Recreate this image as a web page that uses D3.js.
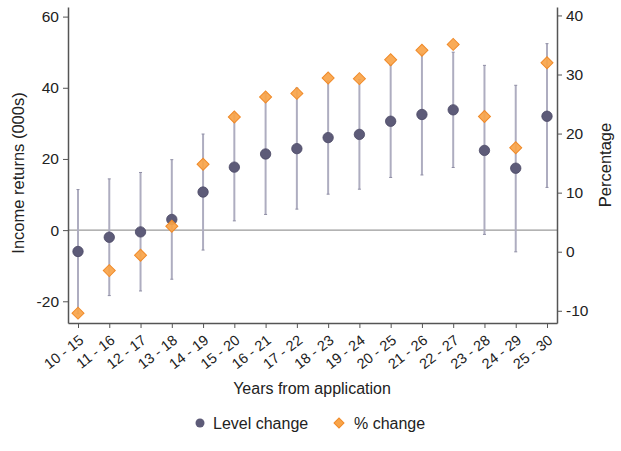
<!DOCTYPE html>
<html><head><meta charset="utf-8">
<script src="https://cdn.jsdelivr.net/npm/d3@7"></script>
<style>body{margin:0;background:#fff;} text{font-family:Arial,"Liberation Sans",sans-serif;}</style>
</head><body>
<svg id="chart" width="621" height="451"></svg>
<script>
const categories = ["10 - 15","11 - 16","12 - 17","13 - 18","14 - 19","15 - 20","16 - 21","17 - 22","18 - 23","19 - 24","20 - 25","21 - 26","22 - 27","23 - 28","24 - 29","25 - 30"];
const levelChange = [-6.0,-2.0,-0.5,3.0,10.7,17.7,21.4,22.9,26.0,26.9,30.6,32.5,33.8,22.4,17.4,32.0];
const levelLow    = [-23.5,-18.4,-17.1,-13.8,-5.6,2.6,4.4,5.9,10.1,11.5,14.8,15.5,17.6,-1.2,-6.1,12.0];
const levelHigh   = [11.4,14.4,16.2,19.8,27.0,32.8,38.4,39.9,41.9,42.3,46.4,49.5,50.0,46.3,40.7,52.4];
const pctChange   = [-10.4,-3.2,-0.6,4.3,14.8,22.8,26.2,26.8,29.4,29.3,32.5,34.1,35.1,22.9,17.6,32.0];
const leftTicks = [-20,0,20,40,60];
const rightTicks = [-10,0,10,20,30,40];

const svg = d3.select("#chart");
const L = 68, R = 557, T = 7, B = 323;
const x = d3.scalePoint().domain(categories).range([L, R]).padding(0.32);
const yL = d3.scaleLinear().domain([-26.1, 62.7]).range([B, T]);
const yR = d3.scaleLinear().domain([-12.07, 41.43]).range([B, T]);
const axisCol = "#555";
const txtCol = "#222";
const fmt = d => String(d);

svg.append("line").attr("x1", L).attr("x2", R).attr("y1", yL(0)).attr("y2", yL(0))
  .attr("stroke", "#9a9a9a").attr("stroke-width", 1.2);

const rows = categories.map((c,i)=>({c, v:levelChange[i], lo:levelLow[i], hi:levelHigh[i], p:pctChange[i]}));
svg.append("g").selectAll("line").data(rows).join("line")
  .attr("x1", d=>x(d.c)).attr("x2", d=>x(d.c))
  .attr("y1", d=>yL(d.lo)).attr("y2", d=>yL(d.hi))
  .attr("stroke", "#aeadc0").attr("stroke-width", 2);
svg.append("g").selectAll("path").data(rows).join("path")
  .attr("d", d=>`M${x(d.c)-1.5},${yL(d.lo)}h3M${x(d.c)-1.5},${yL(d.hi)}h3`)
  .attr("stroke", "#8f8ea5").attr("stroke-width", 1);

svg.append("g").selectAll("circle").data(rows).join("circle")
  .attr("cx", d=>x(d.c)).attr("cy", d=>yL(d.v)).attr("r", 5.2)
  .attr("fill", "#5d5b78").attr("stroke", "#4a4864").attr("stroke-width", 0.8);

svg.append("g").selectAll("path").data(rows).join("path")
  .attr("d", d3.symbol().type(d3.symbolSquare).size(72))
  .attr("transform", d=>`translate(${x(d.c)},${yR(d.p)}) rotate(45)`)
  .attr("fill", "#f9a449").attr("fill-opacity", 0.92).attr("stroke", "#f08a28").attr("stroke-width", 1);

const gl = svg.append("g").attr("transform", `translate(${L},0)`)
  .call(d3.axisLeft(yL).tickValues(leftTicks).tickFormat(fmt).tickSize(5).tickSizeOuter(0).tickPadding(4));
const gr = svg.append("g").attr("transform", `translate(${R},0)`)
  .call(d3.axisRight(yR).tickValues(rightTicks).tickFormat(fmt).tickSize(5).tickSizeOuter(0).tickPadding(4));
const gb = svg.append("g").attr("transform", `translate(0,${B})`)
  .call(d3.axisBottom(x).tickSize(5).tickSizeOuter(0).tickPadding(2));
[gl, gr, gb].forEach(g=>{
  g.select(".domain").attr("stroke", axisCol).attr("stroke-width", 1.5);
  g.selectAll(".tick line").attr("stroke", axisCol).attr("stroke-width", 1);
  g.selectAll("text").attr("fill", txtCol).style("font-size", "15.5px").style("font-family", "Arial, 'Liberation Sans', sans-serif");
});
gb.selectAll("text")
  .attr("text-anchor", "end")
  .attr("x", 0).attr("y", 0).attr("dx", 0).attr("dy", "0.35em")
  .attr("transform", "translate(3,15) rotate(-38)")
  .style("font-size", "14.5px");

svg.append("text").attr("transform", `translate(24,${(T+B)/2+8}) rotate(-90)`)
  .attr("text-anchor", "middle").attr("fill", txtCol).style("font-size", "16.5px")
  .text("Income returns (000s)");
svg.append("text").attr("transform", `translate(611,${(T+B)/2}) rotate(-90)`)
  .attr("text-anchor", "middle").attr("fill", txtCol).style("font-size", "16.5px")
  .text("Percentage");
svg.append("text").attr("x", 312).attr("y", 394).attr("text-anchor", "middle")
  .attr("fill", txtCol).style("font-size", "16px").text("Years from application");

const ly = 423;
svg.append("circle").attr("cx", 200).attr("cy", ly).attr("r", 4.5).attr("fill", "#5d5b78");
svg.append("text").attr("x", 213).attr("y", ly+5.5).attr("fill", txtCol).style("font-size", "16px").text("Level change");
svg.append("path").attr("d", d3.symbol().type(d3.symbolSquare).size(50)())
  .attr("transform", `translate(339,${ly}) rotate(45)`).attr("fill", "#f9a449").attr("stroke", "#f08a28");
svg.append("text").attr("x", 354).attr("y", ly+5.5).attr("fill", txtCol).style("font-size", "16px").text("% change");
</script>
</body></html>
